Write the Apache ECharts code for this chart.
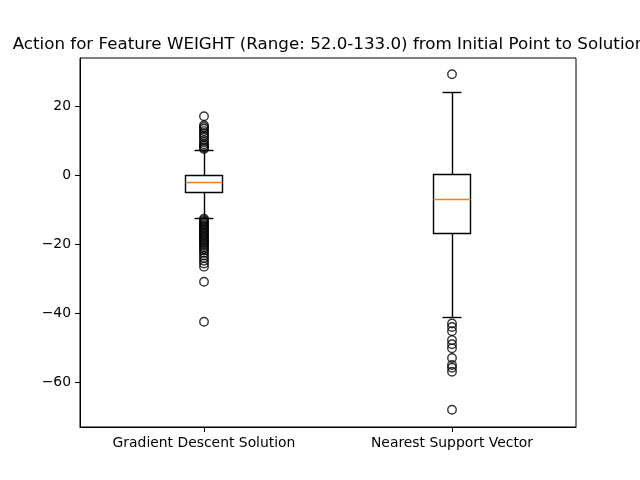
<!DOCTYPE html>
<html><head><meta charset="utf-8">
<script src="https://cdn.jsdelivr.net/npm/echarts@6/dist/echarts.min.js"></script>
<style>html,body{margin:0;padding:0;background:#fff}#c{width:640px;height:480px}</style>
</head><body><div id="c"></div>
<script>
const categories = ['Gradient Descent Solution', 'Nearest Support Vector'];
const whiskerLow = [-12.4, -41.2];
const q1 = [-5.1, -17.0];
const median = [-2.0, -7.0];
const q3 = [0.0, 0.2];
const whiskerHigh = [7.2, 24.0];
const outliersGD = [17.1, 14.5, 14.0, 13.5, 12.8, 12.2, 11.5, 11.0, 10.2, 9.6, 9.0, 8.5, 8.0, 7.6,
  -12.6, -13.0, -13.4, -13.8, -14.2, -14.6, -15.0, -15.4, -15.8, -16.2, -16.6, -17.0, -17.4, -17.8,
  -18.2, -18.6, -19.0, -19.4, -19.8, -20.3, -20.8, -21.3, -21.8, -22.5, -23.3, -24.0, -24.8, -25.6,
  -26.5, -30.9, -42.5];
const outliersNSV = [29.3, -43.0, -44.0, -45.2, -47.8, -49.0, -50.2, -53.0, -55.0, -55.8, -57.0, -68.0];
const yTicks = [-60, -40, -20, 0, 20];

const FONT = 'DejaVu Sans';
const boxData = categories.map((c, i) => [i, whiskerLow[i], q1[i], median[i], q3[i], whiskerHigh[i]]);
const outlierData = outliersGD.map(v => [0, v]).concat(outliersNSV.map(v => [1, v]));

function snap(v) { return Math.round(v - 0.5) + 0.5; }
const LW = 1.4;

const chart = echarts.init(document.getElementById('c'), null, {renderer: 'canvas'});
chart.setOption({
  backgroundColor: '#fff',
  animation: false,
  title: {
    text: 'Action for Feature WEIGHT (Range: 52.0-133.0) from Initial Point to Solution',
    left: 324, top: 31, textAlign: 'center',
    textStyle: {fontFamily: FONT, fontSize: 16.7, fontWeight: 'normal', color: '#000'}
  },
  grid: {left: 80, right: 64, top: 58, bottom: 53, show: true, borderColor: '#000', borderWidth: 1, backgroundColor: 'transparent'},
  xAxis: {
    type: 'category', data: categories, boundaryGap: true,
    axisLine: {show: true, onZero: false, lineStyle: {color: '#000', width: 1}},
    axisTick: {show: true, alignWithLabel: true, length: 5, lineStyle: {color: '#000'}},
    axisLabel: {fontFamily: FONT, fontSize: 13.9, color: '#000', margin: 9},
    splitLine: {show: false}
  },
  yAxis: {
    type: 'value', min: -73, max: 34,
    axisLine: {show: true, onZero: false, lineStyle: {color: '#000', width: 1}},
    axisTick: {show: true, length: 5, customValues: yTicks, lineStyle: {color: '#000'}},
    axisLabel: {fontFamily: FONT, fontSize: 13.9, color: '#000', margin: 9, customValues: yTicks,
      formatter: v => String(v).replace('-', '\u2212')},
    splitLine: {show: false}
  },
  series: [
    {
      type: 'custom',
      data: boxData,
      encode: {x: 0, y: [1, 2, 3, 4, 5]},
      z: 2,
      renderItem: function (params, api) {
        const xi = api.value(0);
        const band = api.size([1, 0])[0];
        const cx = api.coord([xi, 0])[0];
        const hw = band * 0.075, cw = band * 0.0375;
        const yLo = api.coord([xi, api.value(1)])[1];
        const yQ1 = api.coord([xi, api.value(2)])[1];
        const yMed = api.coord([xi, api.value(3)])[1];
        const yQ3 = api.coord([xi, api.value(4)])[1];
        const yHi = api.coord([xi, api.value(5)])[1];
        const sx = snap(cx);
        const L = snap(cx - hw), R = snap(cx + hw);
        const black = {stroke: '#000', lineWidth: LW, fill: null};
        return {
          type: 'group',
          children: [
            {type: 'line', shape: {x1: sx, y1: snap(yQ1), x2: sx, y2: snap(yLo)}, style: black},
            {type: 'line', shape: {x1: sx, y1: snap(yQ3), x2: sx, y2: snap(yHi)}, style: black},
            {type: 'line', shape: {x1: snap(cx - cw), y1: snap(yLo), x2: snap(cx + cw), y2: snap(yLo)}, style: black},
            {type: 'line', shape: {x1: snap(cx - cw), y1: snap(yHi), x2: snap(cx + cw), y2: snap(yHi)}, style: black},
            {type: 'rect', shape: {x: L, y: snap(yQ3), width: R - L, height: snap(yQ1) - snap(yQ3)}, style: {stroke: '#000', lineWidth: LW, fill: '#fff'}},
            {type: 'line', shape: {x1: L, y1: snap(yMed), x2: R, y2: snap(yMed)}, style: {stroke: '#ff7f0e', lineWidth: LW}}
          ]
        };
      }
    },
    {
      type: 'scatter',
      data: outlierData,
      symbol: 'circle',
      symbolSize: 8.5,
      z: 3,
      itemStyle: {color: 'transparent', borderColor: '#000', borderWidth: 1.4},
      emphasis: {disabled: true}
    }
  ]
});
</script>
</body></html>
